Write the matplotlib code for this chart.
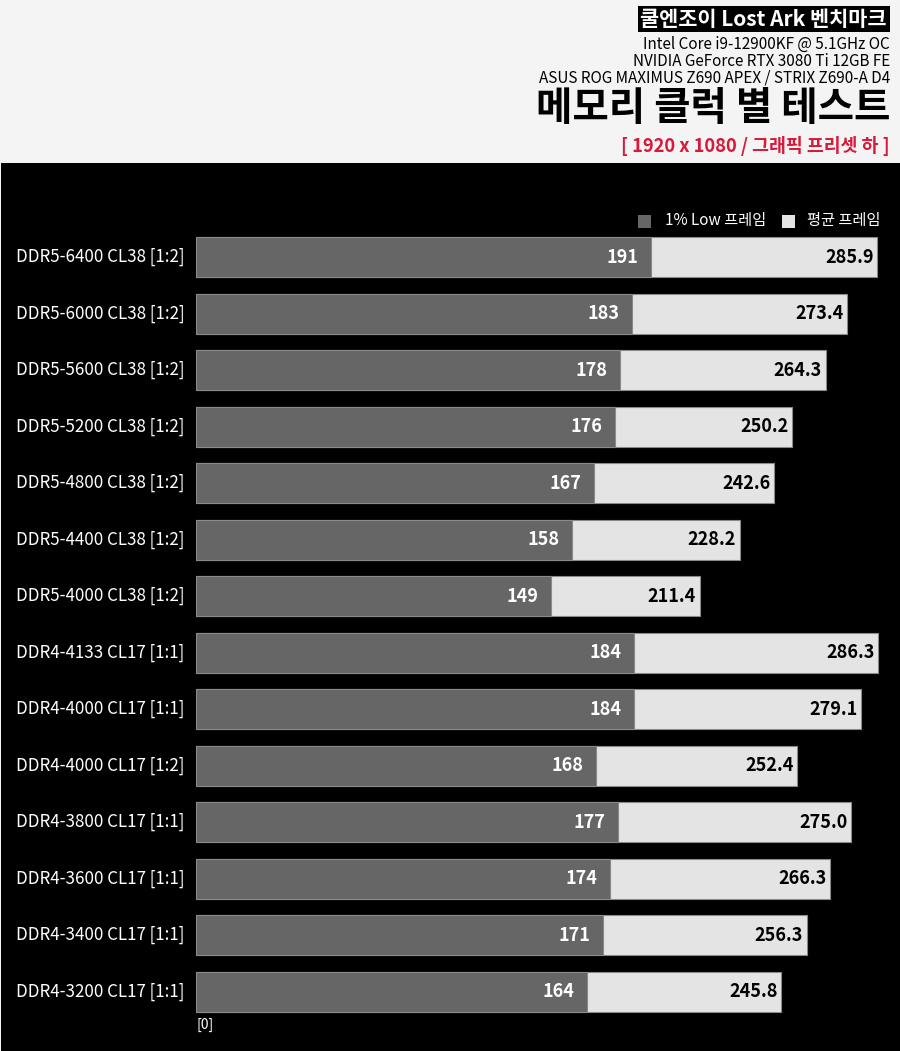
import matplotlib.pyplot as plt
from matplotlib.patches import Rectangle

plt.rcParams['font.family'] = ['Noto Sans CJK KR', 'DejaVu Sans']

# 데이터
labels = ['DDR5-6400 CL38 [1:2]', 'DDR5-6000 CL38 [1:2]', 'DDR5-5600 CL38 [1:2]',
          'DDR5-5200 CL38 [1:2]', 'DDR5-4800 CL38 [1:2]', 'DDR5-4400 CL38 [1:2]',
          'DDR5-4000 CL38 [1:2]', 'DDR4-4133 CL17 [1:1]', 'DDR4-4000 CL17 [1:1]',
          'DDR4-4000 CL17 [1:2]', 'DDR4-3800 CL17 [1:1]', 'DDR4-3600 CL17 [1:1]',
          'DDR4-3400 CL17 [1:1]', 'DDR4-3200 CL17 [1:1]']
low_1 = [191, 183, 178, 176, 167, 158, 149, 184, 184, 168, 177, 174, 171, 164]
avg_fps = [285.9, 273.4, 264.3, 250.2, 242.6, 228.2, 211.4,
           286.3, 279.1, 252.4, 275.0, 266.3, 256.3, 245.8]

W, H = 900, 1051
def fx(x): return x / W
def fy(y): return 1 - y / H

dark = '#666666'
light = '#e4e4e4'

fig = plt.figure(figsize=(9, 10.51), dpi=100, facecolor='#f4f4f4')

# 검은 패널
fig.patches.append(Rectangle((fx(1), 0), fx(899), fy(163), transform=fig.transFigure,
                             facecolor='black', edgecolor='none', zorder=-5))

# 헤더
fig.text(fx(887), fy(19), '쿨엔조이 Lost Ark 벤치마크', ha='right', va='center',
         color='white', fontsize=15, fontweight='bold',
         bbox=dict(facecolor='black', edgecolor='none', pad=2))
specs = ['Intel Core i9-12900KF @ 5.1GHz OC',
         'NVIDIA GeForce RTX 3080 Ti 12GB FE',
         'ASUS ROG MAXIMUS Z690 APEX / STRIX Z690-A D4']
for i, s in enumerate(specs):
    fig.text(fx(890), fy(44 + 17 * i), s, ha='right', va='center',
             color='black', fontsize=11)
fig.text(fx(890), fy(108), '메모리 클럭 별 테스트', ha='right', va='center',
         color='black', fontsize=28.5, fontweight='black')
fig.text(fx(890), fy(146), '[ 1920 x 1080 / 그래픽 프리셋 하 ]', ha='right', va='center',
         color='#d7193a', fontsize=13.2, fontweight='bold')

# 막대 영역
n = len(labels)
top, step = 228.75, 56.5
ax = fig.add_axes([fx(196), fy(top + step * n), fx(900 - 196), step * n / H], zorder=2)
ax.patch.set_alpha(0)
for sp in ax.spines.values():
    sp.set_visible(False)
ax.set_xticks([])
ax.set_yticks([])
ax.set_xlim(0, (900 - 196) / 2.382)
ax.set_ylim(n - 0.5, -0.5)

ypos = list(range(n))
bh = 40 / step
ax.barh(ypos, avg_fps, height=bh, color=light, edgecolor='#8a8a8a', linewidth=0.8, zorder=2)
ax.barh(ypos, low_1, height=bh, color=dark, edgecolor='#8a8a8a', linewidth=0.8, zorder=3)

for y, lo, av in zip(ypos, low_1, avg_fps):
    ax.text(lo - 5.3, y, f'{lo}', ha='right', va='center', color='white',
            fontsize=13, fontweight='bold', zorder=4)
    ax.text(av - 1.5, y, f'{av:.1f}', ha='right', va='center', color='black',
            fontsize=13, fontweight='bold', zorder=4)

for y, lab in zip(ypos, labels):
    fig.text(fx(16), fy(top + step * (y + 0.5)), lab, ha='left', va='center',
             color='white', fontsize=12.2)

fig.text(fx(196), fy(1025), '[0]', ha='left', va='center', color='white', fontsize=10)

# 범례
fig.patches.append(Rectangle((fx(638), fy(228)), fx(13), 13 / H, transform=fig.transFigure,
                             facecolor=dark, edgecolor='none', zorder=3))
fig.text(fx(665), fy(221), '1% Low 프레임', ha='left', va='center', color='white', fontsize=11)
fig.patches.append(Rectangle((fx(782), fy(228)), fx(13), 13 / H, transform=fig.transFigure,
                             facecolor=light, edgecolor='none', zorder=3))
fig.text(fx(807), fy(221), '평균 프레임', ha='left', va='center', color='white', fontsize=11)

fig.savefig('out.png', dpi=100, facecolor=fig.get_facecolor())
